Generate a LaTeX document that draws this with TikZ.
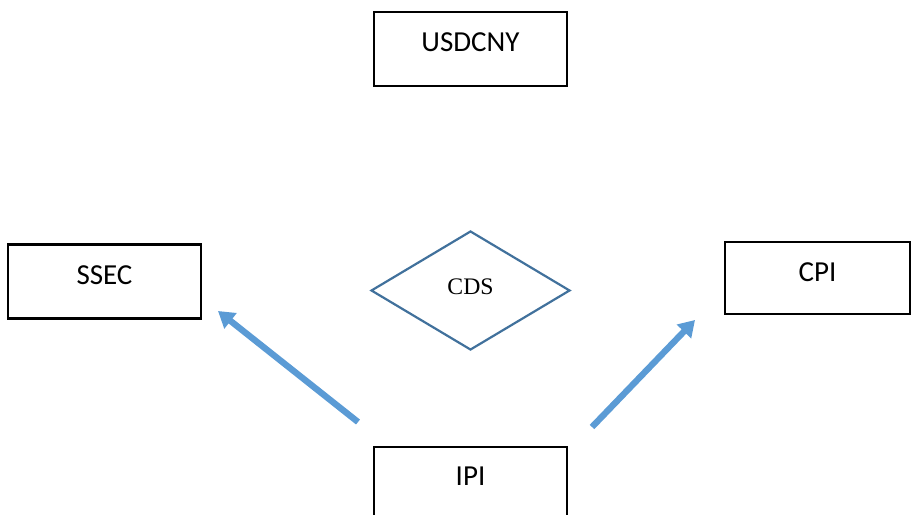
\documentclass[tikz,border=0pt]{standalone}
\usepackage{fontspec}
\setmainfont{Carlito}
\newfontfamily\cdsfont{Liberation Serif}
\usetikzlibrary{arrows.meta,shapes.geometric}

\definecolor{arrowblue}{HTML}{5B9BD5}
\definecolor{cdsblue}{HTML}{41719C}

\begin{document}
\begin{tikzpicture}[x=0.02cm, y=0.02cm, >={Triangle[length=0.32cm,width=0.38cm]},
    box/.style={draw, line width=1.25pt, inner sep=0pt, minimum width=3.86cm,
      text height=0.8cm, text depth=0.68cm, font=\fontsize{16.5}{19}\selectfont},
    link/.style={->, line width=3.6pt, arrowblue}]

    % Canvas
    \useasboundingbox (0,0) rectangle (911,514);
    \clip (0,0) rectangle (911,514);

    % --- Boxes ---
    \node[box] (usdcny) at (470.5,465) {USDCNY};
    \node[box] (ssec) at (104.5,232.5) {SSEC};
    \node[box, minimum width=3.7cm, text depth=0.64cm] (cpi) at (817.5,236) {CPI};
    \node[box, text height=0.76cm, text depth=0.72cm] (ipi) at (470.5,30) {IPI};

    % --- Diamond ---
    \node[diamond, draw=cdsblue, line width=1.25pt, inner sep=0pt,
      minimum width=3.98cm, minimum height=2.38cm,
      font=\cdsfont\fontsize{13.5}{15}\selectfont] (cds) at (470.5,223.5) {\raisebox{4pt}{CDS}};

    % --- Arrows (Blue) ---
    \coordinate (ipi-l) at (358,92);
    \coordinate (ssec-tip) at (218,203);
    \coordinate (ipi-r) at (592,87);
    \coordinate (cpi-tip) at (695,194);
    \draw[link] (ipi-l) -- (ssec-tip);
    \draw[link] (ipi-r) -- (cpi-tip);
  \end{tikzpicture}
\end{document}
